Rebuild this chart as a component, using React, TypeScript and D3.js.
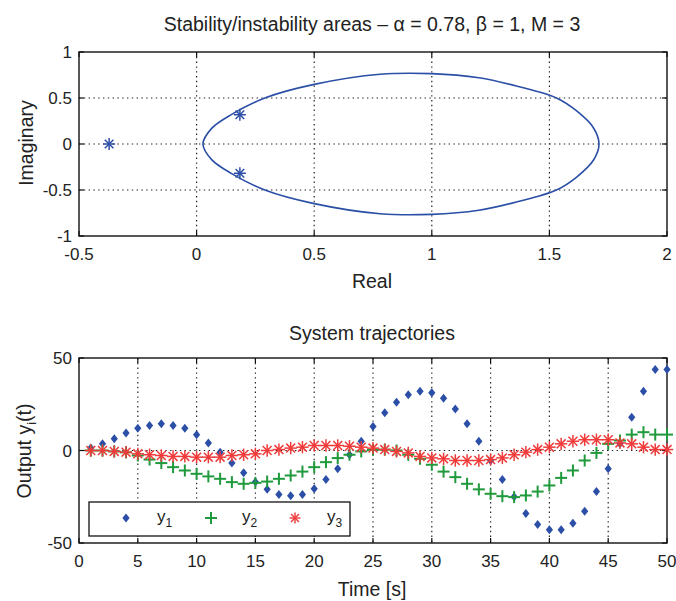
import React from "react";
import * as d3 from "d3";

// ---------- data ----------
const topTitle = "Stability/instability areas \u2013 \u03b1 = 0.78, \u03b2 = 1, M = 3";
const topXTicks = [-0.5, 0, 0.5, 1, 1.5, 2];
const topYTicks = [-1, -0.5, 0, 0.5, 1];
// upper half of the stability boundary, mirrored for the lower half
const boundaryRe = [0.027, 0.064, 0.149, 0.29, 0.5, 0.78, 1.0, 1.2, 1.36, 1.53, 1.616, 1.687, 1.711];
const boundaryIm = [0, 0.17, 0.322, 0.5, 0.648, 0.758, 0.765, 0.72, 0.63, 0.5, 0.359, 0.177, 0];
const rootsRe = [-0.372, 0.184, 0.184];
const rootsIm = [0, 0.318, -0.318];

const botTitle = "System trajectories";
const botXTicks = [0, 5, 10, 15, 20, 25, 30, 35, 40, 45, 50];
const botYTicks = [-50, 0, 50];
const time = d3.range(1, 51);
const y1 = [1.3, 3.6, 6.3, 9.5, 12, 13.5, 14.4, 13.5, 12, 8.5,
  4.1, -0.9, -6.8, -12, -17, -21, -23.8, -24.5, -23.8, -20.7,
  -15.7, -9.9, -2.3, 5, 13, 20.4, 26.1, 30.1, 32, 31.2,
  28.3, 22.5, 14.4, 5, -5.4, -15.7, -25, -34, -40, -42.9,
  -42.9, -39.3, -32.8, -22.2, -9.9, 3.6, 18, 32, 43.8, 43.8];
const y2 = [0, 0, -0.5, -1, -2.7, -4.9, -6.8, -9, -10.8, -12.6,
  -14, -15.3, -17.1, -18, -17.5, -16.8, -15.3, -13.5, -11.4, -9,
  -6.3, -4.1, -2.3, -0.5, 0.4, 0.5, 0, -2.3, -4.5, -7.7,
  -11.4, -14.4, -18, -21, -23.4, -24.7, -25.2, -24.3, -22.2, -18.9,
  -14.8, -10.8, -5.4, -1.3, 3.6, 5.4, 8.6, 9.9, 8.6, 8.6];
const y3 = [0, 0, -0.5, -0.9, -1.8, -2.3, -2.7, -3.2, -3.2, -3.6,
  -3.6, -3.6, -2.7, -2.3, -1.8, 0, 0.5, 1.3, 1.8, 2.7,
  2.7, 2.7, 2.3, 1.8, 1.3, 0.5, -0.5, -1.3, -3.2, -4,
  -4.5, -5.4, -5.4, -5.4, -4.9, -4, -2.3, -0.9, 0.5, 1.8,
  3.6, 5, 5.8, 5.8, 5.8, 4.1, 3.6, 1.8, 0.5, 0.5];
const legendLabels = ["1", "2", "3"];

// ---------- style ----------
const FONT = "'Liberation Sans', Arial, Helvetica, sans-serif";
const BLUE = "#2b4fa6";
const GREEN = "#1f9a3c";
const RED = "#f03a3a";
const GRID = "#222";

const topX = d3.scaleLinear().domain([-0.5, 2]).range([79, 667]);
const topY = d3.scaleLinear().domain([-1, 1]).range([236, 52]);
const botX = d3.scaleLinear().domain([0, 50]).range([79, 667]);
const botY = d3.scaleLinear().domain([-50, 50]).range([543, 358]);

function Star({ x, y, color, r = 6, sw = 1.6 }) {
  const d = r * 0.72;
  return (
    <g stroke={color} strokeWidth={sw}>
      <line x1={x - r} y1={y} x2={x + r} y2={y} />
      <line x1={x} y1={y - r} x2={x} y2={y + r} />
      <line x1={x - d} y1={y - d} x2={x + d} y2={y + d} />
      <line x1={x - d} y1={y + d} x2={x + d} y2={y - d} />
    </g>
  );
}
function Plus({ x, y, color, r = 6 }) {
  return (
    <g stroke={color} strokeWidth={2}>
      <line x1={x - r} y1={y} x2={x + r} y2={y} />
      <line x1={x} y1={y - r} x2={x} y2={y + r} />
    </g>
  );
}
function Diamond({ x, y, color }) {
  return <path d={`M${x},${y - 4.5}L${x + 3.6},${y}L${x},${y + 4.5}L${x - 3.6},${y}Z`} fill={color} />;
}

function Frame({ xs, ys, xTicks, yTicks, fmtX, fmtY, xLabelY }) {
  const [x0, x1] = xs.range();
  const [y0, y1v] = ys.range();
  const top = Math.min(y0, y1v);
  const bottom = Math.max(y0, y1v);
  const T = 5;
  return (
    <g>
      <g stroke={GRID} strokeWidth={1.2} strokeDasharray="1.4 3.4">
        {xTicks.slice(1, -1).map((t) => (
          <line key={"gx" + t} x1={xs(t)} x2={xs(t)} y1={top} y2={bottom} />
        ))}
        {yTicks.slice(1, -1).map((t) => (
          <line key={"gy" + t} x1={x0} x2={x1} y1={ys(t)} y2={ys(t)} />
        ))}
      </g>
      <g stroke="#111" strokeWidth={1.2}>
        {xTicks.map((t) => (
          <g key={"tx" + t}>
            <line x1={xs(t)} x2={xs(t)} y1={bottom} y2={bottom - T} />
            <line x1={xs(t)} x2={xs(t)} y1={top} y2={top + T} />
          </g>
        ))}
        {yTicks.map((t) => (
          <g key={"ty" + t}>
            <line x1={x0} x2={x0 + T} y1={ys(t)} y2={ys(t)} />
            <line x1={x1} x2={x1 - T} y1={ys(t)} y2={ys(t)} />
          </g>
        ))}
      </g>
      <rect x={x0} y={top} width={x1 - x0} height={bottom - top} fill="none" stroke="#111" strokeWidth={1.4} />
      <g fontFamily={FONT} fontSize={17} fill="#222">
        {xTicks.map((t) => (
          <text key={"lx" + t} x={xs(t)} y={xLabelY} textAnchor="middle">{fmtX(t)}</text>
        ))}
        {yTicks.map((t) => (
          <text key={"ly" + t} x={x0 - 7} y={ys(t) + 6} textAnchor="end">{fmtY(t)}</text>
        ))}
      </g>
    </g>
  );
}

export default function App() {
  const upper = boundaryRe.map((r, i) => [r, boundaryIm[i]]);
  const lower = upper.slice(1, -1).reverse().map(([r, im]) => [r, -im]);
  const pts = upper.concat(lower);
  const boundaryPath = d3
    .line()
    .x((d) => topX(d[0]))
    .y((d) => topY(d[1]))
    .curve(d3.curveCatmullRomClosed.alpha(0.5))(pts);

  const fmt = (t) => (t < 0 ? "-" + String(Math.abs(t)) : String(t));

  const legX = 89, legY = 502, legW = 261, legH = 34;
  const legMarkX = [126, 211, 295];
  const legTextX = [157, 242, 327];

  return (
    <svg width={676} height={601} style={{ position: "absolute", left: 0, top: 0, background: "#fff" }}>
      <rect x={0} y={0} width={676} height={601} fill="#fff" />
      <text x={372} y={31} textAnchor="middle" fontFamily={FONT} fontSize={19.5} fill="#222">{topTitle}</text>
      <Frame xs={topX} ys={topY} xTicks={topXTicks} yTicks={topYTicks} fmtX={fmt} fmtY={fmt} xLabelY={260} />
      <path d={boundaryPath} fill="none" stroke={BLUE} strokeWidth={1.6} />
      {rootsRe.map((r, i) => (
        <Star key={"root" + i} x={topX(r)} y={topY(rootsIm[i])} color={BLUE} r={6} sw={1.5} />
      ))}
      <text x={372} y={288} textAnchor="middle" fontFamily={FONT} fontSize={19.5} fill="#222">Real</text>
      <text transform="translate(33,143) rotate(-90)" textAnchor="middle" fontFamily={FONT} fontSize={19.5} fill="#222">Imaginary</text>

      <text x={372} y={340} textAnchor="middle" fontFamily={FONT} fontSize={19.5} fill="#222">{botTitle}</text>
      <Frame xs={botX} ys={botY} xTicks={botXTicks} yTicks={botYTicks} fmtX={fmt} fmtY={fmt} xLabelY={567} />
      {time.map((t, i) => (
        <Diamond key={"a" + t} x={botX(t)} y={botY(y1[i])} color={BLUE} />
      ))}
      {time.map((t, i) => (
        <Plus key={"b" + t} x={botX(t)} y={botY(y2[i])} color={GREEN} r={6} />
      ))}
      {time.map((t, i) => (
        <Star key={"c" + t} x={botX(t)} y={botY(y3[i])} color={RED} r={6.2} sw={1.5} />
      ))}
      <rect x={legX} y={legY} width={legW} height={legH} fill="#fff" stroke="#111" strokeWidth={1.3} />
      <Diamond x={legMarkX[0]} y={legY + 16} color={BLUE} />
      <Plus x={legMarkX[1]} y={legY + 16} color={GREEN} r={6} />
      <Star x={legMarkX[2]} y={legY + 16} color={RED} r={5.5} sw={1.4} />
      {legendLabels.map((s, i) => (
        <text key={"lg" + i} x={legTextX[i]} y={legY + 20} fontFamily={FONT} fontSize={17} fill="#222">
          y<tspan fontSize={12} dy={5}>{s}</tspan>
        </text>
      ))}
      <text x={372} y={596} textAnchor="middle" fontFamily={FONT} fontSize={19.5} fill="#222">Time [s]</text>
      <text transform="translate(31,451) rotate(-90)" textAnchor="middle" fontFamily={FONT} fontSize={19.5} fill="#222">
        Output y<tspan fontSize={13} dy={5}>i</tspan><tspan dy={-5}>(t)</tspan>
      </text>
    </svg>
  );
}
